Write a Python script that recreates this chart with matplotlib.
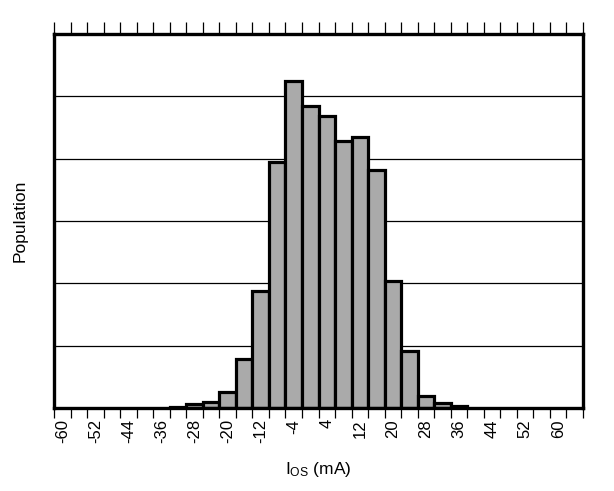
import matplotlib
matplotlib.use("Agg")
import matplotlib.pyplot as plt
import numpy as np

plt.rcParams['font.family'] = ['Liberation Sans', 'DejaVu Sans']
plt.rcParams['mathtext.fontset'] = 'custom'
plt.rcParams['mathtext.rm'] = 'Liberation Sans'
plt.rcParams['mathtext.it'] = 'Liberation Sans:italic'

# Histogram bin centres (mA) and population counts (relative units)
bin_centers = [-32, -28, -24, -20, -16, -12, -8, -4, 0, 4, 8, 12, 16, 20, 24, 28, 32, 36]
population = [2, 6, 9, 25, 78, 187, 394, 525, 484, 469, 429, 435, 382, 204, 91, 20, 8, 3]
bin_width = 4
tick_labels = [-60, -52, -44, -36, -28, -20, -12, -4, 4, 12, 20, 28, 36, 44, 52, 60]

fig = plt.figure(figsize=(6.14, 4.91), dpi=100)
ax = fig.add_axes([54/614, 1-408/491, (583-54)/614, (408-34)/491])

ax.bar(bin_centers, population, width=bin_width, color='#aaaaaa',
       edgecolor='black', linewidth=2.3, zorder=3)

ax.set_xlim(-62, 66)
ax.set_ylim(0, 600)
ax.set_yticks(np.arange(100, 600, 100))
ax.yaxis.grid(True, color='black', linewidth=0.9, zorder=0)
ax.tick_params(axis='y', left=False, labelleft=False)

# bin-edge ticks on bottom and top
edges = np.arange(-62, 67, 4)
ax.set_xticks(edges, minor=True)
ax.set_xticks(tick_labels)
ax.set_xticklabels([str(v) for v in tick_labels], rotation=90, fontsize=12)
ax.tick_params(axis='x', which='major', length=0, pad=8)
ax.tick_params(axis='x', which='minor', length=7, width=0.9, direction='out',
               top=True, bottom=True)
for t in ax.xaxis.get_minor_ticks():
    t.tick2line.set_markersize(8.5)

for s in ax.spines.values():
    s.set_linewidth(2.4)
    s.set_zorder(5)

ax.set_xlabel(r'I$_{\mathrm{OS}}$ (mA)', fontsize=12.5, labelpad=12)
ax.set_ylabel('Population', fontsize=12.5, labelpad=19)

fig.savefig('out.png', dpi=100)
